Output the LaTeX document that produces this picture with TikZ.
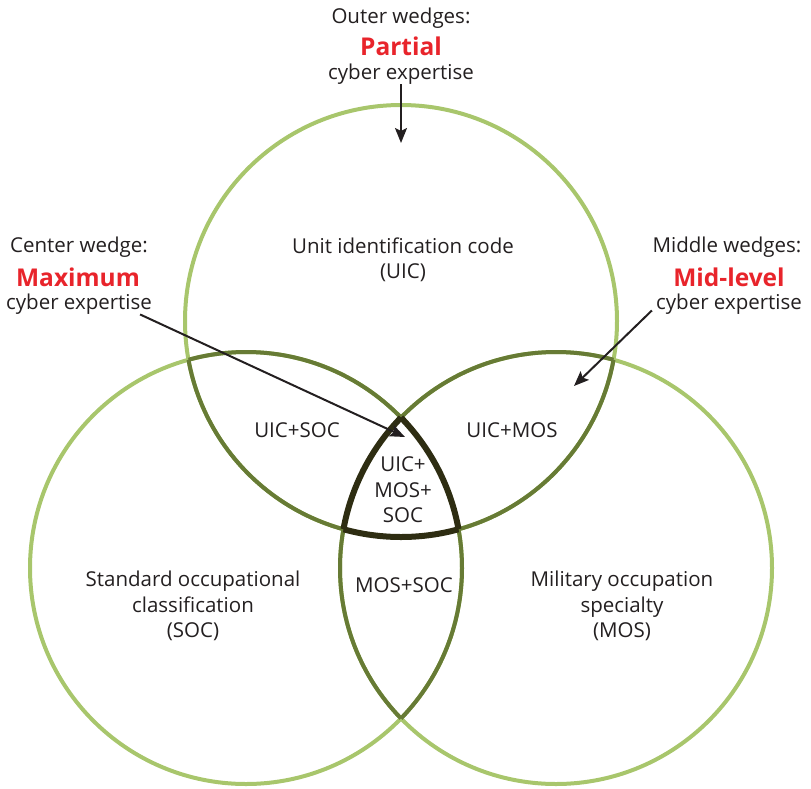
\documentclass[tikz,border=0pt]{standalone}
\usepackage{fontspec}
\setmainfont{Open Sans}
\usetikzlibrary{arrows.meta}
\definecolor{ringgreen}{HTML}{A8C66C}
\definecolor{pairgreen}{HTML}{677B35}
\definecolor{coredark}{HTML}{2E2D12}
\definecolor{wedgered}{HTML}{E8242B}
\definecolor{txtgray}{HTML}{231F20}
\tikzset{
  ring/.style={draw=ringgreen, line width=4pt},
  pairring/.style={draw=pairgreen, line width=4pt},
  corering/.style={draw=coredark, line width=6pt},
  lbl/.style={font=\fontsize{20.5}{25.5}\selectfont, text=txtgray, align=center, inner sep=0pt},
  bigword/.style={font=\fontsize{24.5}{28}\selectfont\bfseries, text=wedgered, inner sep=0pt},
  callarrow/.style={-{Stealth[length=15pt,width=12pt,inset=3pt]}, line width=2pt, draw=txtgray}
}
\begin{document}
\begin{tikzpicture}[x=1pt,y=-1pt]
    \useasboundingbox (0,0) rectangle (811,788);
    \def\rad{216pt}
    \coordinate (uic) at (401,321);
    \coordinate (soc) at (246,568);
    \coordinate (mos) at (556,568);
    % the three circles
    \foreach \c in {uic,soc,mos} {
        \draw[ring] (\c) circle (\rad);
    }
    % parts that lie inside another circle
    \foreach \a/\b in {uic/soc, uic/mos, soc/uic, soc/mos, mos/uic, mos/soc} {
        \begin{scope}
            \clip (\b) circle (\rad);
            \draw[pairring] (\a) circle (\rad);
        \end{scope}
    }
    % center wedge
    \foreach \a/\b/\c in {uic/soc/mos, soc/mos/uic, mos/uic/soc} {
        \begin{scope}
            \clip (\b) circle (\rad);
            \clip (\c) circle (\rad);
            \draw[corering] (\a) circle (\rad);
        \end{scope}
    }
    % wedge labels
    \node (uicname) at (403,260) [lbl] {Unit identification code\\(UIC)};
    \node (socname) at (193,606) [lbl] {Standard occupational\\classification\\(SOC)};
    \node (mosname) at (622,606) [lbl] {Military occupation\\specialty\\(MOS)};
    \node (uicsoc) at (297,430) [lbl] {UIC+SOC};
    \node (uicmos) at (512,430) [lbl] {UIC+MOS};
    \node (allthree) at (403,490) [lbl] {UIC+\\MOS+\\SOC};
    \node (mossoc) at (404,585) [lbl] {MOS+SOC};
    % callouts
    \node (outerhead) at (401,18) [lbl] {Outer wedges:};
    \node (outerlvl) at (401,46) [bigword] {Partial};
    \node (outercyber) at (401,74) [lbl] {cyber expertise};
    \node (centerhead) at (79,247) [lbl] {Center wedge:};
    \node (centerlvl) at (78,277) [bigword] {Maximum};
    \node (centercyber) at (79,304) [lbl] {cyber expertise};
    \node (midhead) at (727,247) [lbl] {Middle wedges:};
    \node (midlvl) at (729,277) [bigword] {Mid-level};
    \node (midcyber) at (729,304) [lbl] {cyber expertise};
    % arrows
    \coordinate (outertip) at (401,143);
    \coordinate (centertip) at (405,437);
    \coordinate (midtip) at (574,386);
    \draw[callarrow] (outercyber.south) -- (outertip);
    \draw[callarrow] ([xshift=-12pt]centercyber.south east) -- (centertip);
    \draw[callarrow] ([shift={(-4pt,4pt)}]midcyber.south west) -- (midtip);
\end{tikzpicture}
\end{document}
